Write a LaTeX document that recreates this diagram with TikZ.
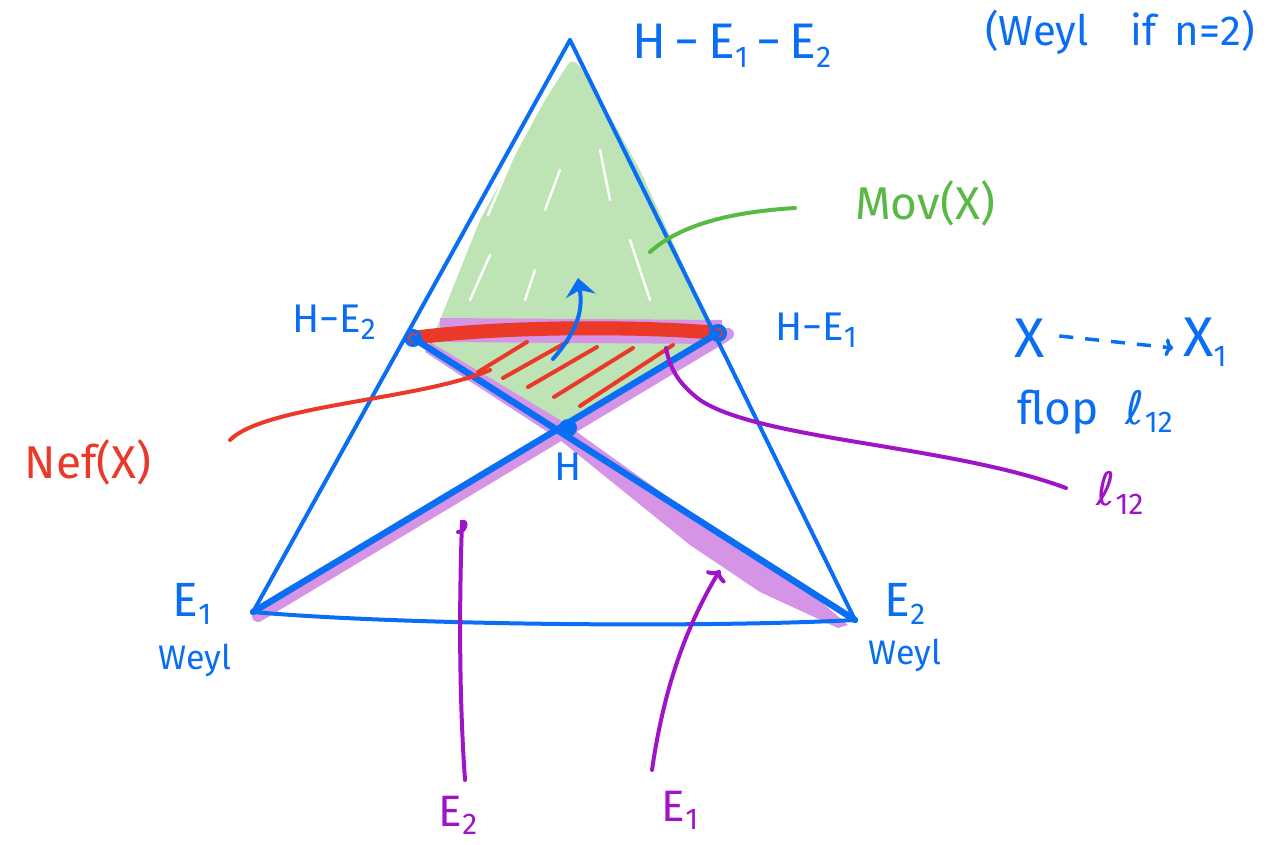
\documentclass[tikz,border=0pt]{standalone}
\usepackage{fontspec}
\setmainfont{Fira Sans}
\newfontfamily\dv{DejaVu Sans}
\usetikzlibrary{arrows.meta}
\definecolor{hblue}{RGB}{10,110,245}
\definecolor{hred}{RGB}{234,57,40}
\definecolor{hpurple}{RGB}{160,20,200}
\definecolor{lpurple}{RGB}{214,148,230}
\definecolor{hgreen}{RGB}{90,185,70}
\definecolor{lgreen}{RGB}{190,227,180}
\newcommand{\fs}[1]{\fontsize{#1}{#1}\selectfont}
\newcommand{\sbs}[1]{\raisebox{-0.35ex}{\fs{30}#1}}
\newcommand{\lot}{{\dv ℓ}\sbs{12}}
\begin{document}
\begin{tikzpicture}[x=1pt,y=-1pt,
  lbl/.style={inner sep=0pt, text=hblue, font=\fs{42}},
  rlbl/.style={inner sep=0pt, text=hred, font=\fs{42}},
  plbl/.style={inner sep=0pt, text=hpurple, font=\fs{42}},
  glbl/.style={inner sep=0pt, text=hgreen, font=\fs{44}},
  edge/.style={hblue, line width=4pt, line cap=round, line join=round},
  thick edge/.style={hblue, line width=6.5pt, line cap=round},
  band/.style={lpurple, line width=12pt, line cap=round},
  hatch/.style={hred, line width=4pt, line cap=round},
  pointer/.style={line width=4pt, line cap=round}]
\useasboundingbox (0,0) rectangle (1287,845);

% key points
\coordinate (apex) at (570,40);
\coordinate (e1) at (253,612);
\coordinate (e2) at (855,620);
\coordinate (he2) at (413,338);
\coordinate (he1) at (718,333);
\coordinate (h) at (568,428);

% green movable cone
\fill[lgreen, rounded corners=8pt] (572,58) -- (545,100) -- (480,220) -- (438,325) -- (425,352) -- (470,382) -- (500,398) -- (568,428) -- (620,400) -- (690,360) -- (716,332) -- (690,280) -- (640,170) -- (585,72) -- cycle;
\draw[white, line width=2.5pt, line cap=round] (520,140) -- (488,215) (545,210) -- (560,170) (600,150) -- (610,200) (630,240) -- (650,300) (470,300) -- (490,255) (525,300) -- (535,270);

% purple bands
\draw[band, line width=12pt] (258,616) -- (728,334);
\fill[lpurple] (430,342) -- (560,420) -- (700,520) -- (790,575) -- (848,625) -- (838,628) -- (760,592) -- (690,545) -- (560,440) -- (425,352) -- cycle;
\draw[band, line width=24pt, line cap=butt] (440,330) -- (722,332);

% red nef edge
\draw[hred, line width=14pt, line cap=round] (he2) .. controls (500,326) and (640,326) .. (he1);

% red hatching
\draw[hatch] (478,372) -- (527,342);
\draw[hatch] (503,378) -- (567,342);
\draw[hatch] (528,387) -- (597,347);
\draw[hatch] (554,397) -- (633,348);
\draw[hatch] (580,406) -- (673,345);

% outer triangle
\draw[edge] (apex) -- (e1);
\draw[edge] (apex) -- (e2);
\draw[edge] (e1) .. controls (400,625) and (700,628) .. (e2);

% exceptional lines
\draw[thick edge] (he2) -- (e2);
\draw[thick edge] (he1) -- (e1);

% vertex marks
\draw[hblue, line width=4pt] (he2) circle (7);
\draw[hblue, line width=4pt] (he1) circle (7);
\fill[hblue] (h) circle (9);

% flop arrow
\draw[hblue, line width=4pt, line cap=round, -{Stealth[length=18pt,width=30pt]}] (553,359) .. controls (578,330) and (583,310) .. (578,278);

% labels
\node[lbl, font=\fs{50}] (top) at (732,46) {H\,−\,E\sbs{1}\,−\,E\sbs{2}};
\node[lbl, font=\fs{42}] (weyl) at (1120,32) {(Weyl\quad if\, n=2)};
\node[glbl, font=\fs{46}] (mov) at (925,203) {Mov(X)};
\node[lbl, font=\fs{40}] (lhe2) at (334,322) {H−E\sbs{2}};
\node[lbl, font=\fs{40}] (lhe1) at (816,330) {H−E\sbs{1}};
\node[lbl, font=\fs{56}] (x) at (1030,338) {X};
\node[lbl, font=\fs{56}] (x1) at (1205,342) {X\sbs{1}};
\draw[hblue, line width=3.5pt, dash pattern=on 14pt off 12pt, -{To[length=8pt,width=18pt]}] ([xshift=14pt,yshift=2pt]x.east) -- ([xshift=-10pt,yshift=-6pt]x1.west);
\node[lbl, font=\fs{46}] (flop) at (1095,412) {flop\,\, \lot};
\node[plbl, font=\fs{46}] (l12) at (1120,493) {\lot};
\node[rlbl, font=\fs{46}] (nef) at (88,462) {Nef(X)};
\node[lbl, font=\fs{40}] (lh) at (568,467) {H};
\node[lbl, font=\fs{48}] (le1) at (192,604) {E\sbs{1}};
\node[lbl, font=\fs{34}] (we1) at (195,660) {Weyl};
\node[lbl, font=\fs{48}] (le2) at (905,604) {E\sbs{2}};
\node[lbl, font=\fs{34}] (we2) at (905,655) {Weyl};
\node[plbl, font=\fs{44}] (pe2) at (458,815) {E\sbs{2}};
\node[plbl, font=\fs{44}] (pe1) at (680,810) {E\sbs{1}};

% pointers
\coordinate (movt) at (650,252);
\coordinate (neft) at (490,370);
\coordinate (l12t) at (666,348);
\coordinate (pe2t) at (462,522);
\coordinate (pe1t) at (720,570);
\draw[pointer, hgreen] (795,208) .. controls (730,212) and (680,225) .. (movt);
\draw[pointer, hred] (230,440) .. controls (265,405) and (420,400) .. (neft);
\draw[pointer, hpurple] (1066,488) .. controls (950,445) and (760,440) .. (700,400) .. controls (680,385) and (670,370) .. (l12t);
\draw[pointer, hpurple] (465,780) .. controls (458,680) and (460,580) .. (pe2t) .. controls (468,520) and (466,532) .. (458,532);
\draw[pointer, hpurple, -{To[length=10pt,width=22pt]}] (652,770) .. controls (665,680) and (690,620) .. (pe1t);
\end{tikzpicture}
\end{document}
